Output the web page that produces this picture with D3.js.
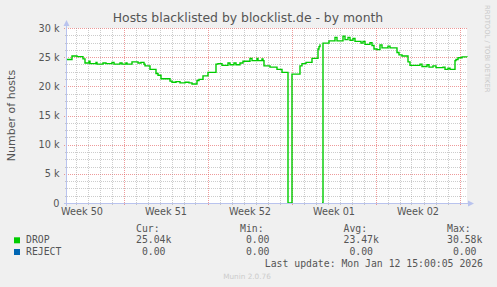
<!DOCTYPE html>
<html>
<head>
<meta charset="utf-8">
<script src="https://cdn.jsdelivr.net/npm/d3@7"></script>
<style>
  body { margin: 0; background: #f0f0f0; }
  svg { display: block; }
  .mono { font-family: 'DejaVu Sans Mono', monospace; font-size: 9.8px; fill: #555; white-space: pre; }
</style>
</head>
<body>
<svg id="chart" width="497" height="287"></svg>
<script>
// time window: 400 px at 2 h per px, ending at the last update
const endTime = Date.UTC(2026, 0, 12, 15, 0, 0);
const spanHours = 800;

// DROP series: hours after window start where the value changes, and value in thousands (null = unknown)
const hours = [0, 10, 20, 32, 36, 44, 46, 58, 60, 72,
  78, 90, 94, 106, 110, 118, 120, 130, 142, 148,
  154, 156, 166, 178, 182, 188, 206, 210, 218, 226,
  236, 244, 250, 260, 264, 272, 282, 298, 302, 310,
  322, 326, 334, 338, 346, 352, 366, 370, 380, 382,
  390, 392, 394, 406, 420, 430, 442, 450, 466, 470,
  478, 490, 502, 504, 506, 508, 510, 512, 524, 536,
  540, 552, 556, 562, 566, 572, 576, 588, 592, 596,
  606, 610, 614, 620, 626, 630, 642, 646, 660, 664,
  670, 682, 686, 706, 710, 720, 724, 732, 738, 752,
  756, 762, 766, 776, 778, 782, 790, 800];
const dropHosts = [24.6, 25.2, 25.1, 24.7, 24.0, 24.3, 23.9, 24.1, 23.8, 24.0,
  23.9, 24.1, 23.8, 24.0, 23.8, 24.0, 23.8, 24.2, 24.0, 24.1,
  23.8, 23.5, 22.9, 22.2, 21.9, 21.3, 20.9, 20.7, 20.8, 20.6,
  20.7, 20.6, 20.4, 21.0, 21.2, 21.8, 22.4, 23.8, 23.9, 23.6,
  24.0, 23.7, 24.0, 23.7, 24.0, 24.3, 24.8, 24.4, 24.8, 24.4,
  24.7, 24.4, 23.5, 23.3, 22.9, 22.4, 0, 22.1, 23.5, 23.9,
  24.1, 24.8, 26.4, 26.8, 27.2, null, 0, 27.4, 27.8, 28.4,
  27.8, 28.6, 28.0, 28.4, 27.9, 28.2, 27.7, 27.4, 27.7, 27.2,
  27.5, 27.0, 26.4, 26.3, 27.1, 26.6, 26.9, 26.6, 25.8, 25.4,
  25.2, 24.2, 23.6, 23.8, 23.4, 23.7, 23.3, 23.5, 23.2, 23.3,
  22.9, 23.1, 22.9, 24.4, 24.6, 24.9, 25.05, 25.04];

const yTicks = [0, 5000, 10000, 15000, 20000, 25000, 30000];
const yMinorStep = 1250;

// legend
const legendNames = ['DROP', 'REJECT'];
const legendColors = ['#00cc00', '#0066b3'];
const legendHeaders = ['Cur:', 'Min:', 'Avg:', 'Max:'];
const legendCur = ['25.04k', ' 0.00'];
const legendMin = [' 0.00', ' 0.00'];
const legendAvg = ['23.47k', ' 0.00'];
const legendMax = ['30.58k', ' 0.00'];

const title = 'Hosts blacklisted by blocklist.de - by month';
const yLabel = 'Number of hosts';
const lastUpdate = 'Last update: Mon Jan 12 15:00:05 2026';

const svg = d3.select('#chart');
const startTime = endTime - spanHours * 3600 * 1000;
const margin = { left: 67, right: 467, top: 28, bottom: 203 };

const x = d3.scaleUtc().domain([new Date(startTime), new Date(endTime)]).range([margin.left, margin.right]);
const y = d3.scaleLinear().domain([0, 30000]).range([margin.bottom, margin.top]);
const px = v => Math.round(v) + 0.5;

// canvas
svg.append('rect')
  .attr('x', margin.left).attr('y', margin.top)
  .attr('width', margin.right - margin.left).attr('height', margin.bottom - margin.top)
  .attr('fill', '#ffffff');

const minorColor = 'rgba(143,143,143,0.45)';
const majorColor = 'rgba(226,86,86,0.6)';
const grid = svg.append('g').attr('shape-rendering', 'crispEdges');

// horizontal grid
const yMinor = d3.range(0, 30001, yMinorStep).filter(v => !yTicks.includes(v));
grid.selectAll('.hminor').data(yMinor).enter().append('line')
  .attr('x1', margin.left - 2).attr('x2', margin.right)
  .attr('y1', d => px(y(d))).attr('y2', d => px(y(d)))
  .attr('stroke', minorColor).attr('stroke-dasharray', '1,1');
grid.selectAll('.hmajor').data(yTicks.filter(v => v > 0)).enter().append('line')
  .attr('x1', margin.left - 3).attr('x2', margin.right)
  .attr('y1', d => px(y(d))).attr('y2', d => px(y(d)))
  .attr('stroke', majorColor).attr('stroke-dasharray', '1,1');

// vertical grid: days and weeks (monday)
const days = d3.utcDay.range(new Date(startTime), new Date(endTime)).filter(d => d.getUTCDay() !== 1);
const mondays = d3.utcMonday.range(new Date(startTime), new Date(endTime));
grid.selectAll('.vminor').data(days).enter().append('line')
  .attr('x1', d => px(x(d))).attr('x2', d => px(x(d)))
  .attr('y1', margin.top).attr('y2', margin.bottom + 2)
  .attr('stroke', minorColor).attr('stroke-dasharray', '1,1');
grid.selectAll('.vmajor').data(mondays).enter().append('line')
  .attr('x1', d => px(x(d))).attr('x2', d => px(x(d)))
  .attr('y1', margin.top).attr('y2', margin.bottom + 3)
  .attr('stroke', majorColor).attr('stroke-dasharray', '1,1');

// data line
const series = hours.map((h, i) => ({
  t: new Date(startTime + h * 3600 * 1000),
  v: dropHosts[i] === null ? null : dropHosts[i] * 1000
}));
const line = d3.line()
  .defined(d => d.v !== null)
  .x(d => x(d.t))
  .y(d => y(d.v))
  .curve(d3.curveStepAfter);
svg.append('path')
  .datum(series)
  .attr('d', line)
  .attr('fill', 'none')
  .attr('stroke', '#00cc00')
  .attr('stroke-width', 1.4);

// axes lines and arrows
const axisColor = '#b9c3ee';
svg.append('line').attr('shape-rendering', 'crispEdges')
  .attr('x1', margin.left - 0.5).attr('x2', margin.left - 0.5)
  .attr('y1', margin.bottom + 3).attr('y2', margin.top - 5)
  .attr('stroke', axisColor);
svg.append('line').attr('shape-rendering', 'crispEdges')
  .attr('x1', margin.left - 3).attr('x2', margin.right + 4)
  .attr('y1', margin.bottom + 0.5).attr('y2', margin.bottom + 0.5)
  .attr('stroke', axisColor);
svg.append('path')
  .attr('d', `M${margin.left - 3.5},${margin.top - 2} L${margin.left - 0.5},${margin.top - 8} L${margin.left + 2.5},${margin.top - 2} Z`)
  .attr('fill', axisColor);
svg.append('path')
  .attr('d', `M${margin.right + 1},${margin.bottom - 2.5} L${margin.right + 7},${margin.bottom + 0.5} L${margin.right + 1},${margin.bottom + 3.5} Z`)
  .attr('fill', axisColor);

// y axis labels
const yAxis = d3.axisLeft(y)
  .tickValues(yTicks)
  .tickSize(0)
  .tickPadding(7.5)
  .tickFormat(v => v === 0 ? '0' : (v / 1000) + ' k');
const gy = svg.append('g').attr('transform', `translate(${margin.left},0)`).call(yAxis);
gy.select('.domain').remove();
gy.selectAll('text')
  .style('font-family', 'DejaVu Sans')
  .style('font-size', '9.7px')
  .style('fill', '#555');

// x axis labels centered in each week
const weekCenters = d3.utcMonday.range(d3.utcMonday.offset(new Date(startTime), -1), new Date(endTime))
  .map(d => new Date(+d + 3.5 * 86400000))
  .filter(d => d >= x.domain()[0] && d <= x.domain()[1]);
const xAxis = d3.axisBottom(x)
  .tickValues(weekCenters)
  .tickSize(0)
  .tickPadding(5)
  .tickFormat(d3.utcFormat('Week %V'));
const gx = svg.append('g').attr('transform', `translate(0,${margin.bottom})`).call(xAxis);
gx.select('.domain').remove();
gx.selectAll('text')
  .style('font-family', 'DejaVu Sans')
  .style('font-size', '9.7px')
  .style('fill', '#555');

// title
svg.append('text')
  .attr('x', 248).attr('y', 22)
  .attr('text-anchor', 'middle')
  .style('font-family', 'DejaVu Sans')
  .style('font-size', '12.4px')
  .style('fill', '#555')
  .text(title);

// vertical axis label
svg.append('text')
  .attr('transform', `translate(15,${(margin.top + margin.bottom) / 2}) rotate(-90)`)
  .attr('text-anchor', 'middle')
  .style('font-family', 'DejaVu Sans')
  .style('font-size', '11px')
  .style('fill', '#555')
  .text(yLabel);

// watermark
svg.append('text')
  .attr('transform', 'translate(485,5) rotate(90)')
  .style('font-family', 'DejaVu Sans')
  .style('font-size', '6.8px')
  .style('fill', '#c8c8c8')
  .text('RRDTOOL / TOBI OETIKER');

// legend
const colX = [136, 240, 343.5, 447];
const legend = svg.append('g');
legendHeaders.forEach((h, i) => {
  legend.append('text').attr('class', 'mono').attr('x', colX[i]).attr('y', 231.5).text(h);
});
const rowY = [243.3, 255];
legendNames.forEach((name, r) => {
  legend.append('rect')
    .attr('x', 14).attr('y', rowY[r] - 6)
    .attr('width', 6).attr('height', 6)
    .attr('fill', legendColors[r]);
  legend.append('text').attr('class', 'mono').attr('x', 26).attr('y', rowY[r]).text(name);
  [legendCur, legendMin, legendAvg, legendMax].forEach((col, c) => {
    legend.append('text').attr('class', 'mono').attr('x', colX[c]).attr('y', rowY[r]).text(col[r]);
  });
});
legend.append('text').attr('class', 'mono')
  .attr('x', 483).attr('y', 266.5)
  .attr('text-anchor', 'end')
  .text(lastUpdate);

svg.append('text')
  .attr('x', 247).attr('y', 279)
  .attr('text-anchor', 'middle')
  .style('font-family', 'DejaVu Sans')
  .style('font-size', '7.3px')
  .style('fill', '#cccccc')
  .text('Munin 2.0.76');
</script>
</body>
</html>
